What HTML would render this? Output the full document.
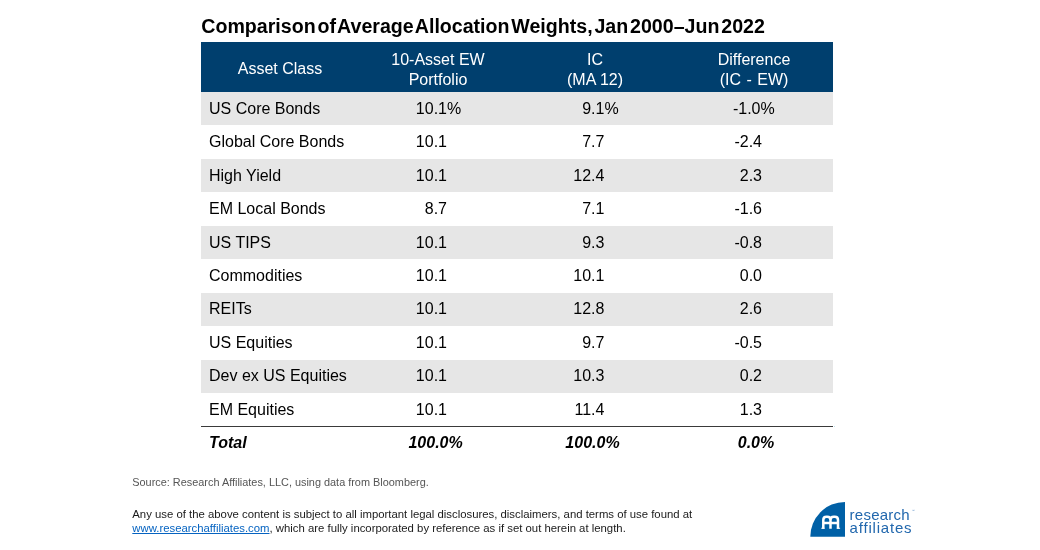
<!DOCTYPE html>
<html><head><meta charset="utf-8">
<style>
html,body{margin:0;padding:0;background:#fff;}
body{width:1040px;height:550px;position:relative;overflow:hidden;font-family:"Liberation Sans",Arial,sans-serif;color:#000;}
#title{position:absolute;left:201.3px;top:13.6px;font-weight:bold;font-size:19.6px;line-height:24px;white-space:nowrap;word-spacing:-3.6px;}
#hdr{position:absolute;left:201px;top:42px;width:632px;height:50px;background:#003f6e;}
.row{position:absolute;left:201px;width:632px;height:33.45px;}
.g{background:#e6e6e6;}
.c{position:absolute;white-space:nowrap;font-size:16px;line-height:20px;}
.h{position:absolute;white-space:nowrap;font-size:16px;line-height:20px;color:#fff;text-align:center;transform:translateX(-50%);}
#line{position:absolute;left:201px;top:425.9px;width:632px;height:1.5px;background:#3a3a3a;}
.t{font-weight:bold;font-style:italic;}
.f{position:absolute;left:132px;font-size:10.5px;line-height:14px;white-space:nowrap;}
.n{}.p{position:absolute;left:100%;top:0}
a{color:#0563c1;text-decoration:underline;}
</style></head><body>
<div id="title">Comparison of Average Allocation Weights, Jan 2000–Jun 2022</div>
<div id="hdr"></div>
<div class="h" style="left:280px;top:59px">Asset Class</div>
<div class="h" style="left:438px;top:50px">10-Asset EW<br>Portfolio</div>
<div class="h" style="left:595px;top:50px">IC<br>(MA 12)</div>
<div class="h" style="left:754px;top:50px">Difference<br><span style="word-spacing:1px">(IC - EW)</span></div>
<div id="rows">
<div class="row g" style="top:92.00px"></div>
<div class="c" style="left:209px;top:98.72px"><span>US Core Bonds</span></div>
<div class="c n" style="right:593.0px;top:98.72px"><span>10.1</span><span class="p">%</span></div>
<div class="c n" style="right:435.6px;top:98.72px"><span>9.1</span><span class="p">%</span></div>
<div class="c n" style="right:279.5px;top:98.72px"><span>-1.0</span><span class="p">%</span></div>
<div class="c" style="left:209px;top:132.18px"><span>Global Core Bonds</span></div>
<div class="c n" style="right:593.0px;top:132.18px"><span>10.1</span></div>
<div class="c n" style="right:435.6px;top:132.18px"><span>7.7</span></div>
<div class="c n" style="right:278.0px;top:132.18px"><span>-2.4</span></div>
<div class="row g" style="top:158.90px"></div>
<div class="c" style="left:209px;top:165.62px"><span>High Yield</span></div>
<div class="c n" style="right:593.0px;top:165.62px"><span>10.1</span></div>
<div class="c n" style="right:435.6px;top:165.62px"><span>12.4</span></div>
<div class="c n" style="right:278.0px;top:165.62px"><span>2.3</span></div>
<div class="c" style="left:209px;top:199.08px"><span>EM Local Bonds</span></div>
<div class="c n" style="right:593.0px;top:199.08px"><span>8.7</span></div>
<div class="c n" style="right:435.6px;top:199.08px"><span>7.1</span></div>
<div class="c n" style="right:278.0px;top:199.08px"><span>-1.6</span></div>
<div class="row g" style="top:225.80px"></div>
<div class="c" style="left:209px;top:232.53px"><span>US TIPS</span></div>
<div class="c n" style="right:593.0px;top:232.53px"><span>10.1</span></div>
<div class="c n" style="right:435.6px;top:232.53px"><span>9.3</span></div>
<div class="c n" style="right:278.0px;top:232.53px"><span>-0.8</span></div>
<div class="c" style="left:209px;top:265.98px"><span>Commodities</span></div>
<div class="c n" style="right:593.0px;top:265.98px"><span>10.1</span></div>
<div class="c n" style="right:435.6px;top:265.98px"><span>10.1</span></div>
<div class="c n" style="right:278.0px;top:265.98px"><span>0.0</span></div>
<div class="row g" style="top:292.70px"></div>
<div class="c" style="left:209px;top:299.43px"><span>REITs</span></div>
<div class="c n" style="right:593.0px;top:299.43px"><span>10.1</span></div>
<div class="c n" style="right:435.6px;top:299.43px"><span>12.8</span></div>
<div class="c n" style="right:278.0px;top:299.43px"><span>2.6</span></div>
<div class="c" style="left:209px;top:332.88px"><span>US Equities</span></div>
<div class="c n" style="right:593.0px;top:332.88px"><span>10.1</span></div>
<div class="c n" style="right:435.6px;top:332.88px"><span>9.7</span></div>
<div class="c n" style="right:278.0px;top:332.88px"><span>-0.5</span></div>
<div class="row g" style="top:359.60px"></div>
<div class="c" style="left:209px;top:366.33px"><span>Dev ex US Equities</span></div>
<div class="c n" style="right:593.0px;top:366.33px"><span>10.1</span></div>
<div class="c n" style="right:435.6px;top:366.33px"><span>10.3</span></div>
<div class="c n" style="right:278.0px;top:366.33px"><span>0.2</span></div>
<div class="c" style="left:209px;top:399.78px"><span>EM Equities</span></div>
<div class="c n" style="right:593.0px;top:399.78px"><span>10.1</span></div>
<div class="c n" style="right:435.6px;top:399.78px"><span>11.4</span></div>
<div class="c n" style="right:278.0px;top:399.78px"><span>1.3</span></div>
<div class="c t" style="left:209px;top:433.23px"><span>Total</span></div>
<div class="c t n" style="right:591.5px;top:433.23px"><span>100.0</span><span class="p">%</span></div>
<div class="c t n" style="right:434.6px;top:433.23px"><span>100.0</span><span class="p">%</span></div>
<div class="c t n" style="right:280.0px;top:433.23px"><span>0.0</span><span class="p">%</span></div>
</div><!--/rows-->
<div id="line"></div>
<div class="f" id="src" style="top:475.2px;font-size:10.9px;color:#555;left:132.3px">Source: Research Affiliates, LLC, using data from Bloomberg.</div>
<div class="f" id="d1" style="top:507.3px;font-size:11.35px;color:#1a1a1a;left:132.3px">Any use of the above content is subject to all important legal disclosures, disclaimers, and terms of use found at</div>
<div class="f" id="d2" style="top:520.5px;font-size:11.35px;color:#1a1a1a;left:132.3px"><a>www.researchaffiliates.com</a>, which are fully incorporated by reference as if set out herein at length.</div>
<svg id="logo" style="position:absolute;left:805px;top:496px" width="120" height="50" viewBox="0 0 120 50">
<path d="M40,5.9 A34.8,34.8 0 0 0 5.3,40.75 L40,40.75 Z" fill="#0060a6"/>
<g fill="none" stroke="#fff" stroke-width="2.5" stroke-linejoin="round">
<path d="M18.3,32.8 V24 Q18.3,20.8 21.5,20.8 H22.3 Q25.5,20.8 25.5,24 V32.8 M25.5,24 Q25.5,20.8 28.7,20.8 H29.8 Q33,20.8 33,24 V32.8 M18.3,27 H33"/>
</g>
<g fill="none" stroke="#fff" stroke-width="1.1">
<path d="M16.3,32.3 H19.6 M31.8,32.3 H35.1"/>
</g>
<text x="44.6" y="23.9" font-family="Liberation Sans, Arial, sans-serif" font-size="15" fill="#2167ad" letter-spacing="0.25" id="lt1">research</text>
<text x="44.6" y="36.5" font-family="Liberation Sans, Arial, sans-serif" font-size="15" fill="#2167ad" letter-spacing="0.8" id="lt2">affiliates</text>
<text x="106.6" y="16" font-family="Liberation Sans, Arial, sans-serif" font-size="3.5" fill="#6a9acb" id="tm">™</text>
</svg>
<div style="position:absolute;left:834px;top:426px;width:1px;height:1px;background:#bfe3ee"></div>
</body></html>
